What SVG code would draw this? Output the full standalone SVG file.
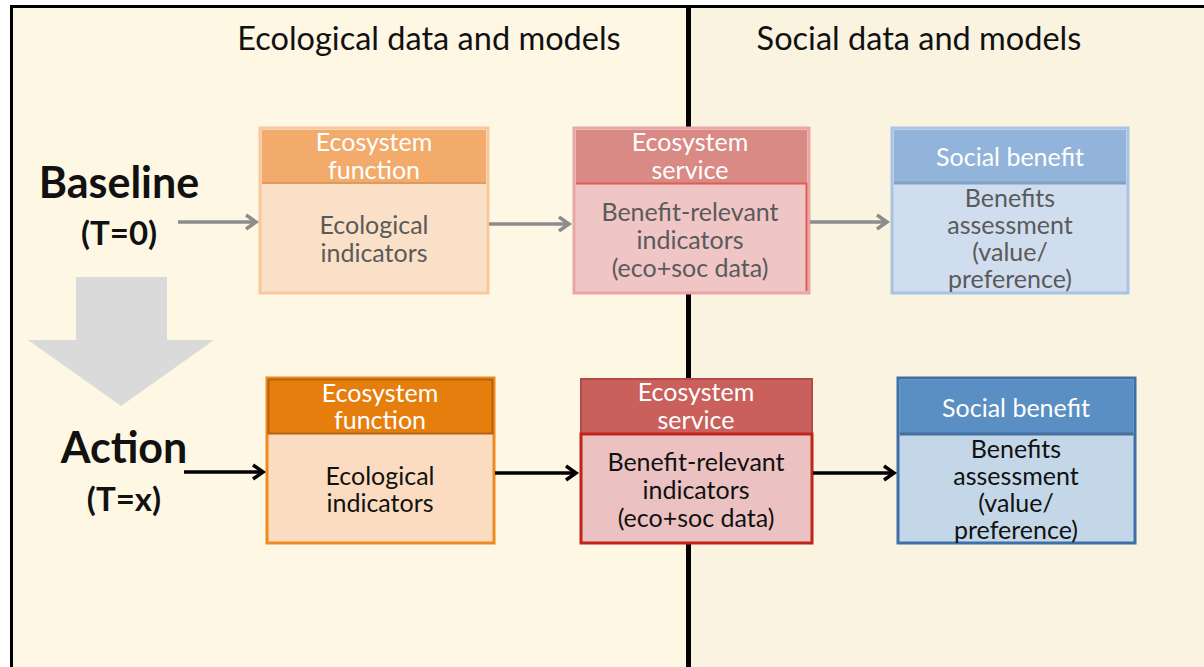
<svg xmlns="http://www.w3.org/2000/svg" width="1204" height="667" viewBox="0 0 1204 667">
<defs>
<style>
text{font-family:Lato,"Open Sans","Liberation Sans",sans-serif;text-anchor:middle}
.hd{font-size:32.5px;fill:#111}
.lb{font-weight:bold;fill:#111}
.tw{font-size:25px;fill:#fff}
.tg{font-size:25px;fill:#5a5a5a}
.tb{font-size:25px;fill:#111}
.ga{stroke:#8c8c8c;stroke-width:3.5;fill:none}
.ka{stroke:#000;stroke-width:3.5;fill:none}
</style>
<marker id="mg" viewBox="0 0 12 16" refX="11" refY="8" markerWidth="12" markerHeight="16" markerUnits="userSpaceOnUse" orient="auto" overflow="visible">
<path d="M1,1 L11,8 L1,15" fill="none" stroke="#8c8c8c" stroke-width="3.5" stroke-linejoin="miter"/>
</marker>
<marker id="mk" viewBox="0 0 12 16" refX="11" refY="8" markerWidth="12" markerHeight="16" markerUnits="userSpaceOnUse" orient="auto" overflow="visible">
<path d="M1,1 L11,8 L1,15" fill="none" stroke="#000" stroke-width="3.5" stroke-linejoin="miter"/>
</marker>
</defs>
<rect x="0" y="0" width="1204" height="667" fill="#fff"/>
<rect x="12" y="7" width="676" height="670" fill="#fef7e4"/>
<rect x="688" y="7" width="520" height="670" fill="#faf3e0"/>
<path d="M11.5,667 V6.5 H1204" fill="none" stroke="#000" stroke-width="3"/>
<line x1="688.5" y1="7" x2="688.5" y2="667" stroke="#000" stroke-width="5"/>
<text class="hd" x="429" y="50">Ecological data and models</text>
<text class="hd" x="919" y="50">Social data and models</text>

<g id="phase-arrow">
<path d="M76,277 H167 V340 H214 L121,406 L28,340 H76 Z" fill="#dadada"/>
</g>
<g id="label-baseline">
<text class="lb" x="119" y="198" font-size="43">Baseline</text>
<text class="lb" x="119" y="245" font-size="33">(T=0)</text>
</g>
<g id="label-action">
<text class="lb" x="124" y="463" font-size="43">Action</text>
<text class="lb" x="124" y="511" font-size="33">(T=x)</text>
</g>

<g id="b-func">
<rect x="260" y="128" width="228" height="165" fill="#fbe0c8" stroke="#f8c79c" stroke-width="3"/>
<rect x="262" y="130" width="224" height="53" fill="#f2ab6b"/>
<line x1="262" y1="183" x2="486" y2="183" stroke="#e09a5e" stroke-width="2"/>
<text class="tw" x="374" y="151">Ecosystem</text>
<text class="tw" x="374" y="179">function</text>
<text class="tg" x="374" y="234">Ecological</text>
<text class="tg" x="374" y="262">indicators</text>
</g>
<g id="b-serv">
<rect x="574" y="128" width="235" height="165" fill="#f0c5c5" stroke="#e8a7a5" stroke-width="3"/>
<rect x="576" y="130" width="231" height="53" fill="#d98a85"/>
<path d="M576,183.5 H806.5 V291" fill="none" stroke="#de5d55" stroke-width="2"/>
<text class="tw" x="690" y="151">Ecosystem</text>
<text class="tw" x="690" y="179">service</text>
<text class="tg" x="690" y="221">Benefit-relevant</text>
<text class="tg" x="690" y="249">indicators</text>
<text class="tg" x="690" y="277">(eco+soc data)</text>
</g>
<g id="b-soc">
<rect x="892" y="128" width="236" height="165" fill="#cfddee" stroke="#a9c3e2" stroke-width="3"/>
<rect x="894" y="130" width="232" height="53" fill="#92b4da"/>
<line x1="894" y1="183" x2="1126" y2="183" stroke="#82a2c5" stroke-width="3"/>
<text class="tw" x="1010" y="166">Social benefit</text>
<text class="tg" x="1010" y="207">Benefits</text>
<text class="tg" x="1010" y="234">assessment</text>
<text class="tg" x="1010" y="261">(value/</text>
<text class="tg" x="1010" y="288">preference)</text>
</g>

<g id="a-func">
<rect x="267" y="378" width="227" height="165" fill="#fbdcc0" stroke="#ee8a20" stroke-width="3"/>
<rect x="268.5" y="379.5" width="224" height="54" fill="#e67e0e" stroke="#b3620f" stroke-width="2"/>
<text class="tw" x="380" y="402">Ecosystem</text>
<text class="tw" x="380" y="429">function</text>
<text class="tb" x="380" y="485">Ecological</text>
<text class="tb" x="380" y="512">indicators</text>
</g>
<g id="a-serv">
<rect x="581" y="379" width="231" height="55" fill="#c9605c" stroke="#b04b47" stroke-width="2"/>
<rect x="581" y="434" width="231" height="109" fill="#ecc1c1" stroke="#c0241b" stroke-width="3"/>
<text class="tw" x="696" y="401">Ecosystem</text>
<text class="tw" x="696" y="429">service</text>
<text class="tb" x="696" y="471">Benefit-relevant</text>
<text class="tb" x="696" y="499">indicators</text>
<text class="tb" x="696" y="527">(eco+soc data)</text>
</g>
<g id="a-soc">
<rect x="898" y="378" width="237" height="165" fill="#c3d7e8" stroke="#3f6fa6" stroke-width="3"/>
<rect x="899.5" y="379.5" width="234" height="54" fill="#5a8fc3"/>
<line x1="899.5" y1="434" x2="1133.5" y2="434" stroke="#44709f" stroke-width="3"/>
<text class="tw" x="1016" y="417">Social benefit</text>
<text class="tb" x="1016" y="458">Benefits</text>
<text class="tb" x="1016" y="485">assessment</text>
<text class="tb" x="1016" y="512">(value/</text>
<text class="tb" x="1016" y="539">preference)</text>
</g>

<g id="connectors">
<line class="ga" x1="178" y1="222" x2="256" y2="222" marker-end="url(#mg)"/>
<line class="ga" x1="489" y1="224" x2="569" y2="224" marker-end="url(#mg)"/>
<line class="ga" x1="810" y1="222" x2="887" y2="222" marker-end="url(#mg)"/>
<line class="ka" x1="184" y1="472" x2="263" y2="472" marker-end="url(#mk)"/>
<line class="ka" x1="495" y1="473" x2="576" y2="473" marker-end="url(#mk)"/>
<line class="ka" x1="813" y1="473" x2="894" y2="473" marker-end="url(#mk)"/>
</g>
</svg>
